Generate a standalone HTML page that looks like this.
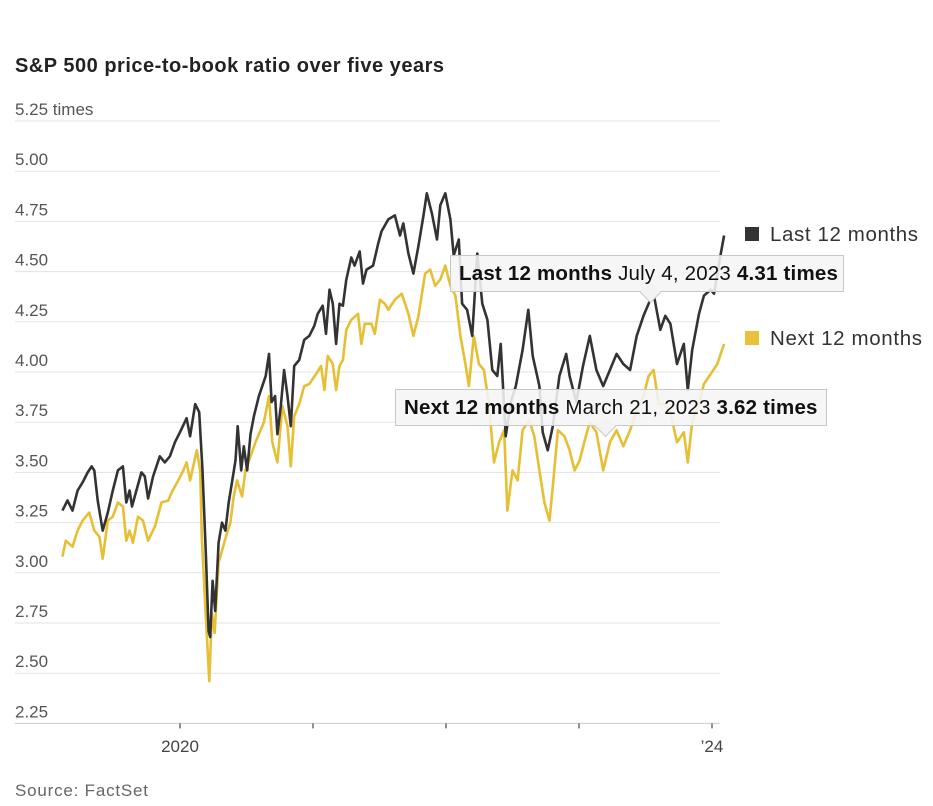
<!DOCTYPE html>
<html><head><meta charset="utf-8"><style>
body{margin:0;background:#fff;width:933px;height:806px;overflow:hidden;font-family:"Liberation Sans",sans-serif}
svg{position:absolute;left:0;top:0}
.tip{position:absolute;background:rgba(245,245,245,0.88);border:1px solid #c8c8c8;font-size:20.5px;color:#111;padding:0 8px;height:35px;line-height:35px;white-space:nowrap;letter-spacing:0.2px}
.tip b{font-weight:bold}
.tip:after{content:"";position:absolute;bottom:-9px;width:14px;height:14px;background:#f3f3f3;border-right:1px solid #c8c8c8;border-bottom:1px solid #c8c8c8;transform:rotate(45deg)}
#tip1:after{left:192px}
#tip2:after{left:202px}
</style></head><body>
<svg width="933" height="806">
<text x="15" y="72" font-size="20" font-weight="bold" fill="#222" textLength="429">S&amp;P 500 price-to-book ratio over five years</text>
<g id="grid"></g><g id="lines"></g>
<text x="15" y="796" font-size="17" fill="#666" textLength="133">Source: FactSet</text>
<rect x="745" y="227" width="14" height="14" fill="#333"/>
<text x="770" y="241" font-size="20.5" fill="#333" textLength="148">Last 12 months</text>
<rect x="745" y="331" width="14" height="14" fill="#e8c23a"/>
<text x="770" y="345" font-size="20.5" fill="#333" textLength="152">Next 12 months</text>
</svg>
<div class="tip" id="tip1" style="left:450px;top:255px;width:376px"><b>Last 12 months</b> July 4, 2023 <b>4.31 times</b></div>
<div class="tip" id="tip2" style="left:395px;top:389px;width:414px"><b>Next 12 months</b> March 21, 2023 <b>3.62 times</b></div>
<script>
const yTicks=[5.25,5.0,4.75,4.5,4.25,4.0,3.75,3.5,3.25,3.0,2.75,2.5,2.25];
const yTickLabels=["5.25 times","5.00","4.75","4.50","4.25","4.00","3.75","3.50","3.25","3.00","2.75","2.50","2.25"];
const xTicks=[2020,2021,2022,2023,2024];
const xTickLabels=["2020","","","","’24"];
const lastDates=[2019.116,2019.154,2019.192,2019.230,2019.268,2019.306,2019.336,2019.356,2019.381,2019.419,2019.457,2019.495,2019.533,2019.571,2019.596,2019.621,2019.639,2019.672,2019.710,2019.735,2019.760,2019.798,2019.848,2019.886,2019.924,2019.962,2020.000,2020.050,2020.076,2020.114,2020.144,2020.169,2020.194,2020.215,2020.227,2020.245,2020.265,2020.290,2020.316,2020.341,2020.366,2020.386,2020.417,2020.434,2020.460,2020.480,2020.505,2020.530,2020.556,2020.593,2020.619,2020.644,2020.669,2020.689,2020.715,2020.732,2020.758,2020.783,2020.808,2020.833,2020.859,2020.896,2020.934,2020.972,2021.010,2021.035,2021.073,2021.098,2021.124,2021.149,2021.174,2021.199,2021.225,2021.250,2021.288,2021.313,2021.351,2021.376,2021.402,2021.452,2021.490,2021.515,2021.566,2021.616,2021.654,2021.679,2021.717,2021.755,2021.793,2021.831,2021.856,2021.894,2021.932,2021.957,2021.995,2022.033,2022.058,2022.096,2022.121,2022.159,2022.197,2022.235,2022.273,2022.311,2022.348,2022.386,2022.411,2022.449,2022.487,2022.525,2022.576,2022.619,2022.652,2022.702,2022.727,2022.765,2022.803,2022.853,2022.904,2022.929,2022.980,2023.030,2023.081,2023.131,2023.182,2023.232,2023.283,2023.333,2023.384,2023.434,2023.485,2023.523,2023.561,2023.611,2023.649,2023.687,2023.737,2023.788,2023.818,2023.851,2023.902,2023.939,2023.990,2024.015,2024.066,2024.091];
const lastValues=[3.31,3.36,3.31,3.41,3.45,3.50,3.53,3.51,3.36,3.21,3.30,3.41,3.51,3.53,3.35,3.41,3.33,3.41,3.50,3.48,3.37,3.48,3.58,3.55,3.58,3.65,3.70,3.77,3.68,3.84,3.80,3.51,3.10,2.71,2.68,2.96,2.81,3.15,3.25,3.21,3.35,3.43,3.56,3.73,3.51,3.63,3.51,3.69,3.78,3.88,3.93,3.98,4.09,3.85,3.88,3.69,3.83,4.01,3.88,3.73,4.03,4.06,4.16,4.18,4.23,4.29,4.33,4.19,4.41,4.34,4.14,4.34,4.33,4.46,4.57,4.53,4.60,4.44,4.51,4.53,4.64,4.70,4.76,4.78,4.68,4.74,4.59,4.49,4.63,4.78,4.89,4.79,4.66,4.83,4.89,4.76,4.58,4.66,4.34,4.31,4.18,4.59,4.34,4.26,4.01,3.98,4.14,3.68,3.85,3.93,4.11,4.31,4.08,3.93,3.70,3.61,3.73,3.98,4.09,3.98,3.85,4.03,4.18,4.01,3.93,4.01,4.09,4.04,4.01,4.18,4.28,4.34,4.39,4.21,4.28,4.24,4.04,4.14,3.91,4.11,4.29,4.38,4.41,4.39,4.59,4.68];
const nextDates=[2019.116,2019.141,2019.192,2019.230,2019.268,2019.318,2019.356,2019.394,2019.419,2019.457,2019.495,2019.533,2019.571,2019.596,2019.621,2019.646,2019.684,2019.722,2019.760,2019.811,2019.861,2019.912,2019.937,2019.987,2020.025,2020.050,2020.076,2020.126,2020.152,2020.164,2020.189,2020.220,2020.240,2020.260,2020.290,2020.316,2020.354,2020.379,2020.404,2020.429,2020.467,2020.492,2020.530,2020.568,2020.631,2020.669,2020.694,2020.732,2020.770,2020.808,2020.833,2020.859,2020.896,2020.934,2020.972,2021.023,2021.061,2021.086,2021.111,2021.149,2021.174,2021.199,2021.225,2021.250,2021.288,2021.338,2021.364,2021.389,2021.439,2021.465,2021.503,2021.540,2021.566,2021.616,2021.667,2021.717,2021.755,2021.793,2021.843,2021.881,2021.919,2021.957,2021.995,2022.033,2022.071,2022.108,2022.146,2022.172,2022.209,2022.247,2022.285,2022.323,2022.361,2022.399,2022.437,2022.462,2022.500,2022.538,2022.576,2022.626,2022.664,2022.702,2022.740,2022.778,2022.803,2022.841,2022.891,2022.929,2022.967,2023.005,2023.043,2023.081,2023.131,2023.182,2023.232,2023.283,2023.333,2023.384,2023.434,2023.485,2023.523,2023.561,2023.599,2023.636,2023.687,2023.737,2023.788,2023.818,2023.851,2023.902,2023.939,2023.990,2024.040,2024.091];
const nextValues=[3.08,3.16,3.13,3.21,3.26,3.30,3.21,3.18,3.07,3.26,3.28,3.35,3.33,3.16,3.21,3.15,3.28,3.26,3.16,3.23,3.35,3.36,3.40,3.46,3.51,3.55,3.46,3.61,3.51,3.18,2.85,2.46,2.80,2.70,3.05,3.11,3.20,3.25,3.38,3.46,3.38,3.51,3.58,3.65,3.75,3.88,3.65,3.55,3.83,3.73,3.53,3.78,3.84,3.93,3.94,3.99,4.03,3.91,4.08,4.04,3.91,4.03,4.06,4.21,4.26,4.29,4.14,4.24,4.24,4.19,4.36,4.34,4.31,4.36,4.39,4.29,4.18,4.28,4.49,4.51,4.43,4.46,4.53,4.43,4.38,4.18,4.04,3.93,4.18,4.04,4.01,3.84,3.55,3.65,3.71,3.31,3.51,3.46,3.71,3.76,3.68,3.51,3.35,3.26,3.43,3.71,3.68,3.61,3.51,3.56,3.66,3.75,3.70,3.51,3.65,3.71,3.63,3.71,3.81,3.88,3.98,4.01,3.84,3.84,3.80,3.65,3.70,3.55,3.75,3.84,3.94,3.99,4.04,4.14];

const NS="http://www.w3.org/2000/svg";
const xScale=t=>180+(t-2020)*133;
const yScale=v=>121+(5.25-v)*200.8;
const grid=document.getElementById('grid'), lines=document.getElementById('lines');
yTicks.forEach((v,i)=>{
  const y=yScale(v);
  const l=document.createElementNS(NS,'line');
  
  
  l.setAttribute('x1',15);l.setAttribute('x2',720);l.setAttribute('y1',y);l.setAttribute('y2',y);
  l.setAttribute('stroke',i===yTicks.length-1?'#ccc':'#e3e3e3');l.setAttribute('stroke-width',1);
  grid.appendChild(l);
  const t=document.createElementNS(NS,'text');
  
  
  t.setAttribute('x',15);t.setAttribute('y',y-6);t.setAttribute('font-size',17);t.setAttribute('fill','#555');
  t.textContent=yTickLabels[i];grid.appendChild(t);
});
xTicks.forEach((v,i)=>{
  const x=xScale(v);
  const l=document.createElementNS(NS,'line');
  
  
  l.setAttribute('x1',x);l.setAttribute('x2',x);l.setAttribute('y1',yScale(2.25));l.setAttribute('y2',yScale(2.25)+5);
  l.setAttribute('stroke','#444');l.setAttribute('stroke-width',1.2);grid.appendChild(l);
  if(xTickLabels[i]){
    const t=document.createElementNS(NS,'text');
    
    
    t.setAttribute('x',x);t.setAttribute('y',752);t.setAttribute('font-size',17);t.setAttribute('fill','#444');t.setAttribute('text-anchor','middle');
    t.textContent=xTickLabels[i];grid.appendChild(t);
  }
});
function drawLine(d,v,color,name){
  const p=document.createElementNS(NS,'path');
  
  
  p.setAttribute('d',d.map((t,i)=>(i?'L':'M')+xScale(t).toFixed(1)+','+yScale(v[i]).toFixed(1)).join(''));
  p.setAttribute('fill','none');p.setAttribute('stroke',color);p.setAttribute('stroke-width',2.6);p.setAttribute('stroke-linejoin','round');
  lines.appendChild(p);
}
drawLine(nextDates,nextValues,'#e6bf35','next-12-months-line');
drawLine(lastDates,lastValues,'#333333','last-12-months-line');
</script>
</body></html>
